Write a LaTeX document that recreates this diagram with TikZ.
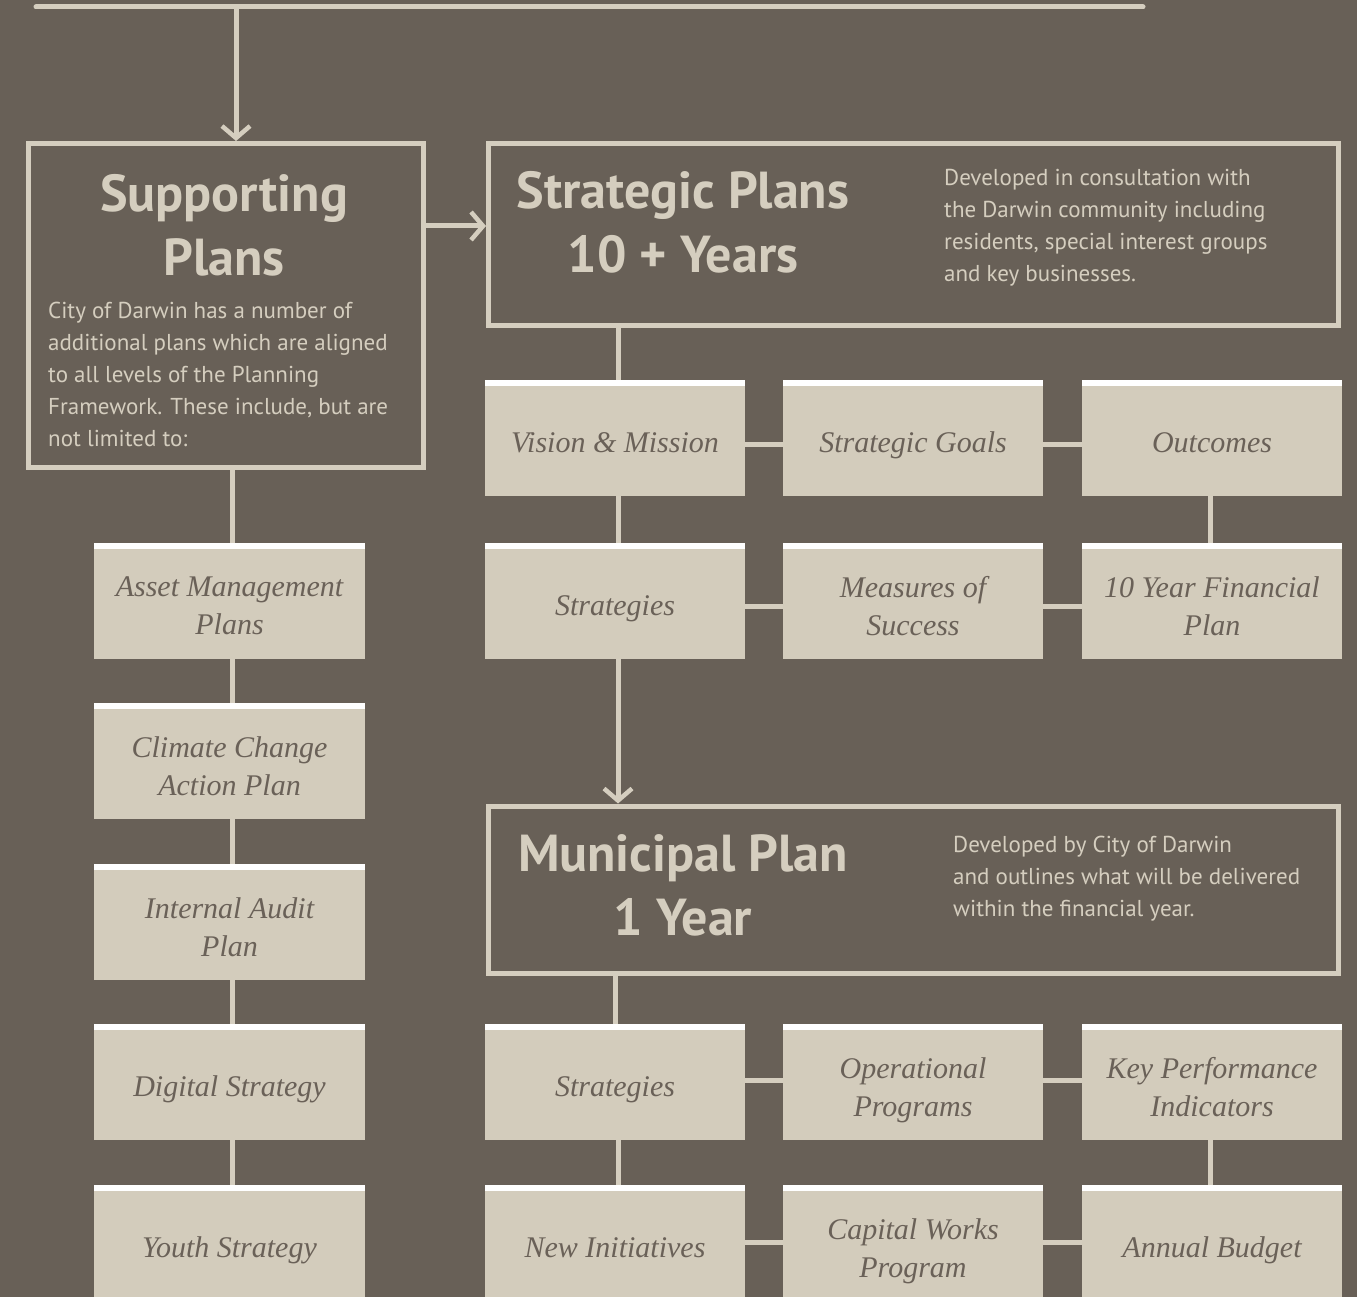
\documentclass[tikz,border=0pt]{standalone}
\usepackage{fontspec}
\setmainfont{Liberation Serif}
\setsansfont{PT Sans}
\usetikzlibrary{arrows.meta}
\definecolor{bgc}{HTML}{686057}
\definecolor{lnc}{HTML}{D5CEBF}
\definecolor{boxc}{HTML}{D3CCBC}
\definecolor{txtc}{HTML}{6A6158}
\tikzset{
  ltx/.style={yshift=-6.4pt, inner sep=0pt, align=center, text=txtc, font=\itshape\fontsize{30}{38}\selectfont,
    execute at begin node=\strut, execute at end node=\strut},
  ltxb/.style={ltx, yshift=-4pt},
  boxbase/.style={fill=boxc, minimum width=260pt, minimum height=116pt, inner sep=0pt,
    path picture={\fill[white] (path picture bounding box.north west) rectangle ([yshift=-6pt]path picture bounding box.north east);}},
  lbox/.style={boxbase, label={[ltx]center:{#1}}},
  lboxb/.style={boxbase, label={[ltxb]center:{#1}}},
  sbox/.style={lbox={#1}, minimum width=271pt},
  sboxb/.style={lboxb={#1}, minimum width=271pt},
  frame/.style={draw=lnc, line width=5pt, inner sep=0pt},
  conn/.style={draw=lnc, line width=5pt},
  arr/.style={conn, -{Straight Barb[length=12pt,width=28pt,line width=4.5pt]}},
  ttl/.style={text=lnc, font=\sffamily\bfseries\fontsize{52}{64}\selectfont, align=center, inner sep=0pt},
  dsc/.style={text=lnc, font=\sffamily\fontsize{23}{32}\selectfont, align=left, inner sep=0pt, anchor=north west},
}
\begin{document}
\begin{tikzpicture}[x=1pt,y=-1pt]
\fill[bgc] (0,0) rectangle (1357,1297);
\useasboundingbox (0,0) rectangle (1357,1297);
% top line
\coordinate (tl) at (36,7);
\coordinate (tr) at (1143,7);
\coordinate (td) at (236,7);
\draw[conn, line cap=round] (tl) -- (tr);
% frames
\node[frame, minimum width=395pt, minimum height=324pt] (sup) at (226,305.5) {};
\node[frame, minimum width=850pt, minimum height=182pt] (str) at (913.5,234.5) {};
\node[frame, minimum width=850pt, minimum height=167pt] (mun) at (913.5,889.5) {};
% titles
\node[ttl] (supt) at (224,225) {Supporting\\Plans};
\node[ttl] (strt) at (683,222) {Strategic Plans\\10 + Years};
\node[ttl] (munt) at (683,885) {Municipal Plan\\1 Year};
\node[dsc] (supd) at (48,302) {City of Darwin has a number of\\additional plans which are aligned\\to all levels of the Planning\\Framework. These include, but are\\not limited to:};
\node[dsc] (strd) at (944,169) {Developed in consultation with\\the Darwin community including\\residents, special interest groups\\and key businesses.};
\node[dsc] (mund) at (953,836) {Developed by City of Darwin\\and outlines what will be delivered\\within the financial year.};
% strategic boxes
\node[lbox={Vision \& Mission}] (vm) at (615,438) {};
\node[lbox={Strategic Goals}] (sg) at (913,438) {};
\node[lbox={Outcomes}] (oc) at (1212,438) {};
\node[lbox={Strategies}] (st1) at (615,601) {};
\node[lboxb={Measures of\\Success}] (ms) at (913,601) {};
\node[lboxb={10 Year Financial\\Plan}] (fp) at (1212,601) {};
% municipal boxes
\node[lbox={Strategies}] (st2) at (615,1082) {};
\node[lboxb={Operational\\Programs}] (op) at (913,1082) {};
\node[lboxb={Key Performance\\Indicators}] (kpi) at (1212,1082) {};
\node[lbox={New Initiatives}] (ni) at (615,1243) {};
\node[lboxb={Capital Works\\Program}] (cw) at (913,1243) {};
\node[lbox={Annual Budget}] (ab) at (1212,1243) {};
% supporting boxes
\node[sboxb={Asset Management\\Plans}] (am) at (229.5,601) {};
\node[sboxb={Climate Change\\Action Plan}] (cc) at (229.5,761) {};
\node[sboxb={Internal Audit\\Plan}] (ia) at (229.5,922) {};
\node[sbox={Digital Strategy}] (ds) at (229.5,1082) {};
\node[sbox={Youth Strategy}] (ys) at (229.5,1243) {};
% arrows
\coordinate (sa) at (426,226);
\draw[arr] (td) -- (td |- sup.north);
\draw[arr] (sup.east |- sa) -- (str.west |- sa);
\draw[arr] ([xshift=3pt]st1.south) -- ([xshift=3pt]st1.south |- mun.north);
% connectors strategic
\draw[conn] ([xshift=3pt]vm.north |- str.south) -- ([xshift=3pt]vm.north);
\draw[conn] ([xshift=3pt]vm.south) -- ([xshift=3pt]st1.north);
\draw[conn] ([xshift=-2pt]oc.south) -- ([xshift=-2pt]fp.north);
\draw[conn] ([yshift=-6pt]vm.east) -- ([yshift=-6pt]sg.west);
\draw[conn] ([yshift=-6pt]sg.east) -- ([yshift=-6pt]oc.west);
\draw[conn] ([yshift=-5pt]st1.east) -- ([yshift=-5pt]ms.west);
\draw[conn] ([yshift=-5pt]ms.east) -- ([yshift=-5pt]fp.west);
% connectors municipal
\draw[conn] (st2.north |- mun.south) -- (st2.north);
\draw[conn] ([xshift=3pt]st2.south) -- ([xshift=3pt]ni.north);
\draw[conn] ([xshift=-2pt]kpi.south) -- ([xshift=-2pt]ab.north);
\draw[conn] ([yshift=2pt]st2.east) -- ([yshift=2pt]op.west);
\draw[conn] ([yshift=2pt]op.east) -- ([yshift=2pt]kpi.west);
\draw[conn] ([yshift=1pt]ni.east) -- ([yshift=1pt]cw.west);
\draw[conn] ([yshift=1pt]cw.east) -- ([yshift=1pt]ab.west);
% connectors supporting
\draw[conn] ([xshift=2.5pt]am.north |- sup.south) -- ([xshift=2.5pt]am.north);
\draw[conn] ([xshift=2.5pt]am.south) -- ([xshift=2.5pt]cc.north);
\draw[conn] ([xshift=2.5pt]cc.south) -- ([xshift=2.5pt]ia.north);
\draw[conn] ([xshift=2.5pt]ia.south) -- ([xshift=2.5pt]ds.north);
\draw[conn] ([xshift=2.5pt]ds.south) -- ([xshift=2.5pt]ys.north);
\end{tikzpicture}
\end{document}
